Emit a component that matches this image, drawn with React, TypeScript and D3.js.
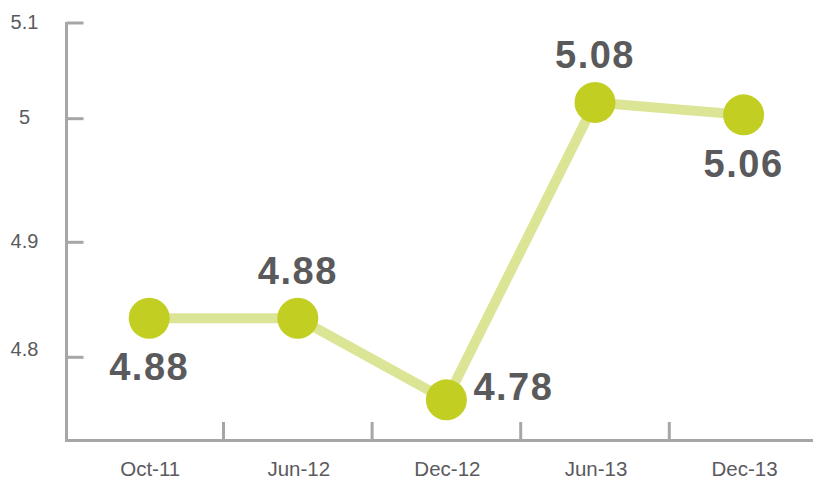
import React from "react";
import * as d3 from "d3";

const categories = ["Oct-11", "Jun-12", "Dec-12", "Jun-13", "Dec-13"];
// plotted positions (as read against the axis)
const values = [4.834, 4.834, 4.763, 5.017, 5.004];
// text shown on the markers
const valueLabels = ["4.88", "4.88", "4.78", "5.08", "5.06"];
const labelPlacement = ["below", "above", "right", "above", "below"];
const yTicks = [4.8, 4.9, 5.0, 5.1];
const yTickLabels = ["4.8", "4.9", "5", "5.1"];

const W = 813;
const H = 483;

export default function App() {
  const axisX = 66.5;
  const axisBottom = 440.5;
  const xb = d3.scaleBand<string>().domain(categories).range([74.9, 74.9 + 148.6 * 5]);
  const cx = (c: string) => (xb(c) as number) + xb.bandwidth() / 2;
  // the printed axis is not evenly spaced; piecewise linear scale through its ticks
  const y = d3.scaleLinear().domain(yTicks).range([357.3, 242.3, 118.7, 23]);

  const line = d3
    .line<number>()
    .x((_, i) => cx(categories[i]))
    .y((v) => y(v));

  const axisColor = "#a6a6a9";
  const textColor = "#5a5a5c";

  return (
    <svg
      width={W}
      height={H}
      style={{ position: "absolute", left: 0, top: 0, background: "#fff" }}
      fontFamily="'Liberation Sans', Arial, Helvetica, sans-serif"
    >
      {/* y axis */}
      <line x1={axisX} x2={axisX} y1={22} y2={axisBottom + 1.5} stroke={axisColor} strokeWidth={3} />
      {yTicks.map((t, i) => (
        <g key={t}>
          <line x1={axisX} x2={83.5} y1={y(t)} y2={y(t)} stroke={axisColor} strokeWidth={3} />
          <text
            x={24.5}
            y={y(t) - (t === 4.8 ? 8 : 1.5)}
            textAnchor="middle"
            dominantBaseline="central"
            fontSize={20}
            fill="#5a5a5d"
          >
            {yTickLabels[i]}
          </text>
        </g>
      ))}
      {/* x axis */}
      <line x1={axisX - 1.5} x2={813} y1={axisBottom} y2={axisBottom} stroke={axisColor} strokeWidth={3} />
      {categories.slice(1).map((c) => (
        <line
          key={c}
          x1={xb(c) as number}
          x2={xb(c) as number}
          y1={422}
          y2={axisBottom}
          stroke={axisColor}
          strokeWidth={3}
        />
      ))}
      {categories.map((c) => (
        <text key={c} x={cx(c) + 1} y={476} textAnchor="middle" fontSize={20.5} fill="#5a5a5d">
          {c}
        </text>
      ))}
      {/* line */}
      <path d={line(values) || ""} fill="none" stroke="#dce596" strokeWidth={10} strokeLinejoin="round" />
      {values.map((v, i) => (
        <circle key={i} cx={cx(categories[i])} cy={y(v)} r={20.5} fill="#c2cf22" />
      ))}
      {values.map((v, i) => {
        const px = cx(categories[i]);
        const py = y(v);
        const p = labelPlacement[i];
        let tx = px;
        let ty = py;
        let anchor: "middle" | "start" = "middle";
        if (p === "below") ty = py + 62;
        else if (p === "above") ty = py - 34;
        else {
          tx = px + 27;
          ty = py + 0;
          anchor = "start";
        }
        return (
          <text
            key={i}
            x={tx}
            y={ty}
            textAnchor={anchor}
            fontSize={38}
            fontWeight="bold"
            letterSpacing={1.5}
            fill={textColor}
          >
            {valueLabels[i]}
          </text>
        );
      })}
    </svg>
  );
}
